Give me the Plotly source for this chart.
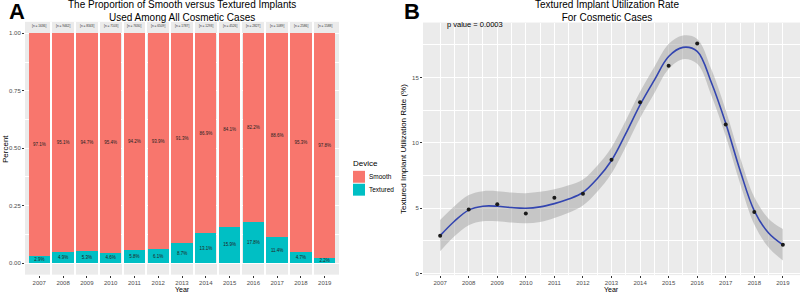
import plotly.graph_objects as go

years = [2007, 2008, 2009, 2010, 2011, 2012, 2013, 2014, 2015, 2016, 2017, 2018, 2019]
n_cases = [1636, 9462, 8343, 7103, 7630, 6509, 1787, 1293, 4526, 2827, 1089, 2586, 1588]
textured_pct = [2.9, 4.9, 5.3, 4.6, 5.8, 6.1, 8.7, 13.1, 15.9, 17.8, 11.4, 4.7, 2.2]
smooth_pct = [97.1, 95.1, 94.7, 95.4, 94.2, 93.9, 91.3, 86.9, 84.1, 82.2, 88.6, 95.3, 97.8]

rate_points = [2.9, 4.9, 5.3, 4.6, 5.8, 6.1, 8.7, 13.1, 15.9, 17.6, 11.4, 4.7, 2.2]
curve_x = [2007, 2007.5, 2008, 2008.5, 2009, 2009.5, 2010, 2010.5, 2011, 2011.5, 2012, 2012.5,
           2013, 2013.5, 2014, 2014.5, 2015, 2015.5, 2016, 2016.5, 2017, 2017.5, 2018, 2018.5, 2019]
curve_y = [2.9, 4.0, 4.85, 5.15, 5.15, 5.05, 5.0, 5.1, 5.35, 5.7, 6.2, 7.25,
           8.65, 10.7, 12.9, 14.8, 16.6, 17.3, 17.0, 14.6, 11.5, 7.9, 4.8, 3.1, 2.2]
band_half = [1.2, 1.15, 1.15, 1.15, 1.15, 1.15, 1.15, 1.15, 1.1, 1.05, 1.0, 1.0,
             1.0, 1.0, 1.0, 1.0, 0.95, 0.9, 0.95, 1.0, 1.0, 1.0, 1.05, 1.1, 1.2]

device_names = ["Smooth", "Textured"]

SMOOTH = "#F8766D"
TEXTURED = "#00BFC4"
PANEL = "#EBEBEB"
TICK = "#4D4D4D"
FONT = "Liberation Sans, Arial, sans-serif"

W, H = 800, 294


def px(x):
    return x / W


def py(y):
    return 1 - y / H


fig = go.Figure()

# Panel A: stacked bars
fig.add_trace(go.Bar(
    x=years, y=[v / 100 for v in textured_pct], name="Textured",
    marker=dict(color=TEXTURED, line=dict(width=0)), width=0.9,
    text=[f"{v}%" for v in textured_pct], textposition="inside", constraintext="none",
    insidetextanchor="middle", textangle=0,
    textfont=dict(size=4.5, color="#222222", family=FONT),
    xaxis="x", yaxis="y", showlegend=False, hoverinfo="skip"))
fig.add_trace(go.Bar(
    x=years, y=[v / 100 for v in smooth_pct], name="Smooth",
    marker=dict(color=SMOOTH, line=dict(width=0)), width=0.9,
    text=[f"{v}%" for v in smooth_pct], textposition="inside", constraintext="none",
    insidetextanchor="middle", textangle=0,
    textfont=dict(size=4.5, color="#222222", family=FONT),
    xaxis="x", yaxis="y", showlegend=False, hoverinfo="skip"))

# Panel B: band, curve, points
fig.add_trace(go.Scatter(
    x=curve_x, y=[c - h for c, h in zip(curve_y, band_half)], mode="lines",
    line=dict(width=0, shape="spline"), showlegend=False, xaxis="x2", yaxis="y2",
    hoverinfo="skip"))
fig.add_trace(go.Scatter(
    x=curve_x, y=[c + h for c, h in zip(curve_y, band_half)], mode="lines",
    line=dict(width=0, shape="spline"), fill="tonexty",
    fillcolor="rgba(153,153,153,0.45)", showlegend=False, xaxis="x2", yaxis="y2",
    hoverinfo="skip"))
fig.add_trace(go.Scatter(
    x=curve_x, y=curve_y, mode="lines", line=dict(color="#3345B0", width=1.6, shape="spline"),
    showlegend=False, xaxis="x2", yaxis="y2", hoverinfo="skip"))
fig.add_trace(go.Scatter(
    x=years, y=rate_points, mode="markers", marker=dict(color="#1A1A1A", size=4),
    showlegend=False, xaxis="x2", yaxis="y2", hoverinfo="skip"))

annotations = []
for yr, n in zip(years, n_cases):
    annotations.append(dict(x=yr, y=1.03, xref="x", yref="y", text=f"[n = {n}]",
                            xanchor="center", yanchor="middle",
                            showarrow=False, font=dict(size=3.2, color="#333333", family=FONT)))


def note(x, y, text, size, xanchor="center", angle=0, color="black"):
    return dict(x=px(x), y=py(y), xref="paper", yref="paper", text=text, showarrow=False,
                xanchor=xanchor, yanchor="middle", textangle=angle, borderpad=0,
                font=dict(size=size, color=color, family=FONT))


annotations += [
    note(17, 12, "<b>A</b>", 22),
    note(412, 12, "<b>B</b>", 22),
    note(182, 11, "The Proportion of Smooth versus Textured Implants<br>Used Among All Cosmetic Cases", 10),
    note(607, 11, "Textured Implant Utilization Rate<br>For Cosmetic Cases", 10),
    note(182, 291, "Year", 7),
    note(611, 291, "Year", 7),
    note(6, 150, "Percent", 8, angle=-90),
    note(404, 150, "Textured Implant Utilization Rate (%)", 8, angle=-90),
    note(446, 25, "p value = 0.0003", 7.5, xanchor="left"),
    note(352, 165, "Device", 8, xanchor="left"),
    note(368, 178, device_names[0], 6.5, xanchor="left"),
    note(368, 191, device_names[1], 6.5, xanchor="left"),
]

shapes = [
    dict(type="rect", xref="paper", yref="paper", x0=px(353), x1=px(365), y0=py(184), y1=py(172),
         fillcolor=SMOOTH, line=dict(width=0)),
    dict(type="rect", xref="paper", yref="paper", x0=px(353), x1=px(365), y0=py(197), y1=py(185),
         fillcolor=TEXTURED, line=dict(width=0)),
]

axis_common = dict(showline=False, zeroline=False, ticks="outside", ticklen=2,
                   tickcolor="#333333", tickfont=dict(size=6, color=TICK, family=FONT))

fig.update_layout(
    width=W, height=H, margin=dict(l=0, r=0, t=0, b=0),
    paper_bgcolor="white", plot_bgcolor=PANEL, barmode="stack", bargap=0.1,
    font=dict(family=FONT), showlegend=False,
    xaxis=dict(domain=[px(25), px(339)], range=[2006.4, 2019.6], tickvals=years,
               anchor="y", showgrid=False,
               minor=dict(tickvals=[y + 0.5 for y in years[:-1]], showgrid=True,
                          gridcolor="white", gridwidth=2.4, ticks=""),
               **axis_common),
    yaxis=dict(domain=[py(276.5), py(22)], range=[-0.05, 1.05],
               tickvals=[0, 0.25, 0.5, 0.75, 1.0], ticktext=["0.00", "0.25", "0.50", "0.75", "1.00"],
               anchor="x", showgrid=True, gridcolor="white", gridwidth=1,
               minor=dict(tickvals=[0.125, 0.375, 0.625, 0.875], showgrid=True,
                          gridcolor="white", gridwidth=0.5, ticks=""),
               **axis_common),
    xaxis2=dict(domain=[px(423), 1.0], range=[2006.4, 2019.6], tickvals=years,
                anchor="y2", showgrid=True, gridcolor="white", gridwidth=1,
                minor=dict(tickvals=[y + 0.5 for y in years[:-1]], showgrid=True,
                           gridcolor="white", gridwidth=0.5, ticks=""),
                **axis_common),
    yaxis2=dict(domain=[py(277), py(22.7)], range=[-0.12, 19.2],
                tickvals=[0, 5, 10, 15], anchor="x2", showgrid=True, gridcolor="white", gridwidth=1,
                minor=dict(tickvals=[2.5, 7.5, 12.5, 17.5], showgrid=True,
                           gridcolor="white", gridwidth=0.5, ticks=""),
                **axis_common),
    annotations=annotations,
    shapes=shapes,
)

fig.write_html("out.html", config={"displayModeBar": False},
               post_script="document.body.style.margin='0';document.body.style.overflow='hidden';")
